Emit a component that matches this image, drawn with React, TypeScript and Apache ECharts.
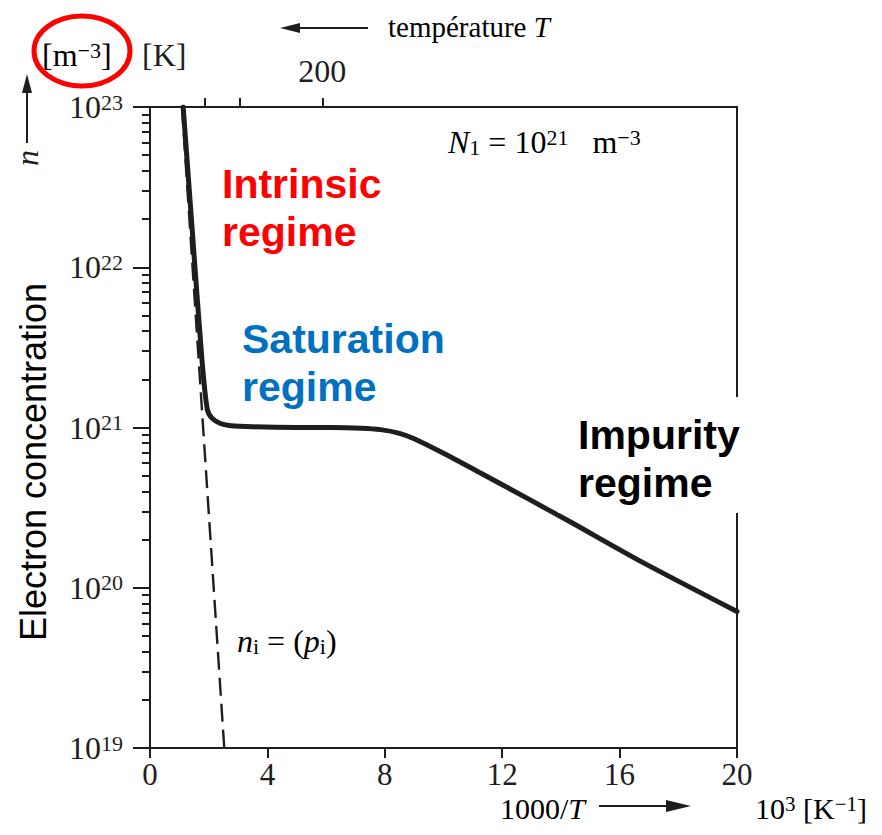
import React, { useEffect, useRef } from "react";
import * as echarts from "echarts";

// Solid curve: electron concentration n vs 1000/T
const solidX = [1.13, 1.45, 1.77, 1.95, 2.12, 2.4, 2.7, 3.5, 5.0, 6.2, 7.2, 7.85, 8.5, 9.0, 10.0, 11.26, 12.97, 14.33, 16.72, 20.0];
const solidN = [1e23, 1.6e22, 2.65e21, 1.3e21, 1.14e21, 1.06e21, 1.03e21, 1.01e21, 1.0e21, 1.0e21, 0.99e21, 0.97e21, 0.92e21, 0.85e21, 0.69e21, 0.52e21, 0.352e21, 0.257e21, 0.146e21, 0.071e21];

// Dashed intrinsic line n_i
const dashX = [1.09, 2.53];
const dashN = [1e23, 1e19];

// Axis ticks
const xTicks = [0, 4, 8, 12, 16, 20];
const yDecades = [1e19, 1e20, 1e21, 1e22, 1e23];
const yMinorMultipliers = [2, 3, 4, 5, 6, 7, 8, 9];
const topTickPositions = [1.85, 3.05, 5.87];
const topLabelPositions = [5.87];
const topLabelTexts = ["200"];

const SERIF = '"Liberation Serif", "Times New Roman", serif';
const SANS = '"Liberation Sans", Arial, sans-serif';
const INK = "#1e1e1e";

export default function App() {
  const ref = useRef<HTMLDivElement>(null);
  useEffect(() => {
    if (!ref.current) return;
    document.body.style.margin = "0";
    const chart = echarts.init(ref.current, null, { renderer: "svg" });

    const minorValues: number[] = [];
    for (let i = 0; i < yDecades.length - 1; i++) {
      for (const m of yMinorMultipliers) minorValues.push(yDecades[i] * m);
    }

    const supRich = {
      b: { fontFamily: SERIF, fontSize: 32, color: INK, lineHeight: 32 },
      s: { fontFamily: SERIF, fontSize: 22, color: INK, lineHeight: 16, verticalAlign: "top" },
      sub: { fontFamily: SERIF, fontSize: 22, color: INK, lineHeight: 10, verticalAlign: "bottom" },
      i: { fontFamily: SERIF, fontSize: 32, fontStyle: "italic", color: INK, lineHeight: 32 },
    };
    const titleRich = {
      b: { fontFamily: SERIF, fontSize: 30, color: INK, lineHeight: 30 },
      s: { fontFamily: SERIF, fontSize: 21, color: INK, lineHeight: 15, verticalAlign: "top" },
      i: { fontFamily: SERIF, fontSize: 30, fontStyle: "italic", color: INK, lineHeight: 30 },
    };

    const option: any = {
      animation: false,
      backgroundColor: "#ffffff",
      grid: {
        left: 150,
        right: 145,
        top: 107,
        bottom: 87,
        show: true,
        borderColor: INK,
        borderWidth: 2,
        backgroundColor: "transparent",
      },
      xAxis: [
        {
          type: "value",
          position: "bottom",
          min: 0,
          max: 20,
          interval: 4,
          axisLine: { show: true, lineStyle: { color: INK, width: 2 } },
          axisTick: { show: true, length: 10, lineStyle: { color: INK, width: 2 }, customValues: xTicks },
          axisLabel: { color: INK, fontFamily: SERIF, fontSize: 31, margin: 11, customValues: xTicks },
          splitLine: { show: false },
        },
        {
          type: "value",
          position: "top",
          min: 0,
          max: 20,
          axisLine: { show: true, lineStyle: { color: INK, width: 2 } },
          axisTick: { show: true, length: 9, lineStyle: { color: INK, width: 2 }, customValues: topTickPositions },
          axisLabel: {
            color: INK,
            fontFamily: SERIF,
            fontSize: 32,
            margin: 20,
            customValues: topLabelPositions,
            formatter: (v: number) => {
              const idx = topLabelPositions.findIndex((p) => Math.abs(p - v) < 1e-6);
              return idx >= 0 ? topLabelTexts[idx] : "";
            },
          },
          splitLine: { show: false },
        },
      ],
      yAxis: [
        {
          type: "log",
          logBase: 10,
          min: 1e19,
          max: 1.000001e23,
          position: "left",
          axisLine: { show: true, lineStyle: { color: INK, width: 2 } },
          axisTick: { show: true, length: 17, lineStyle: { color: INK, width: 2 }, customValues: yDecades },
          axisLabel: {
            margin: 27,
            customValues: yDecades,
            formatter: (v: number) => `{b|10}{s|${Math.round(Math.log10(v))}}`,
            rich: supRich,
          },
          splitLine: { show: false },
        },
        {
          type: "log",
          logBase: 10,
          min: 1e19,
          max: 1.000001e23,
          position: "left",
          axisLine: { show: false },
          axisTick: { show: true, length: 8, lineStyle: { color: INK, width: 2 }, customValues: minorValues },
          axisLabel: { show: false },
          splitLine: { show: false },
        },
      ],
      series: [
        {
          type: "line",
          xAxisIndex: 0,
          yAxisIndex: 0,
          data: solidX.map((x, i) => [x, solidN[i]]),
          showSymbol: false,
          symbol: "none",
          smooth: 0.25,
          lineStyle: { color: INK, width: 5, cap: "round", join: "round" },
          z: 3,
        },
        {
          type: "line",
          xAxisIndex: 0,
          yAxisIndex: 0,
          data: dashX.map((x, i) => [x, dashN[i]]),
          showSymbol: false,
          symbol: "none",
          lineStyle: { color: INK, width: 2.4, type: [18, 8] },
          z: 2,
        },
      ],
      graphic: [
        // left vertical arrow with n
        { type: "line", shape: { x1: 27, y1: 143, x2: 27, y2: 88 }, style: { stroke: INK, lineWidth: 2 }, z: 50 },
        { type: "polygon", shape: { points: [[27, 74], [22, 93], [32, 93]] }, style: { fill: INK }, z: 50 },
        {
          type: "text",
          x: 27,
          y: 158,
          rotation: Math.PI / 2,
          style: { text: "n", font: `italic 32px ${SERIF}`, fill: INK, align: "center", verticalAlign: "middle" },
          z: 50,
        },
        {
          type: "text",
          x: 33,
          y: 462,
          rotation: Math.PI / 2,
          style: { text: "Electron concentration", font: `36px ${SANS}`, fill: "#000", align: "center", verticalAlign: "middle" },
          z: 50,
        },
        // unit labels top-left
        {
          type: "text",
          x: 42,
          y: 55,
          style: { text: "{b|[m}{s|−3}{b|]}", rich: supRich, align: "left", verticalAlign: "middle" },
          z: 50,
        },
        {
          type: "ellipse",
          shape: { cx: 82, cy: 51, rx: 48, ry: 35 },
          style: { fill: "none", stroke: "#ff0000", lineWidth: 5 },
          z: 51,
        },
        {
          type: "text",
          x: 142,
          y: 55,
          style: { text: "[K]", font: `32px ${SERIF}`, fill: INK, align: "left", verticalAlign: "middle" },
          z: 50,
        },
        // top temperature arrow + label
        { type: "line", shape: { x1: 295, y1: 28, x2: 368, y2: 28 }, style: { stroke: INK, lineWidth: 2 }, z: 50 },
        { type: "polygon", shape: { points: [[280, 28], [300, 23], [300, 33]] }, style: { fill: INK }, z: 50 },
        {
          type: "text",
          x: 388,
          y: 27,
          style: {
            text: "{b|température }{i|T}",
            rich: { b: { fontFamily: SERIF, fontSize: 29, color: INK }, i: { fontFamily: SERIF, fontSize: 29, fontStyle: "italic", color: INK } },
            align: "left",
            verticalAlign: "middle",
          },
          z: 50,
        },
        // N1 annotation
        {
          type: "text",
          x: 448,
          y: 142,
          style: {
            text: "{i|N}{sub|1}{b| = 10}{s|21}{b|   m}{s|−3}",
            rich: supRich,
            align: "left",
            verticalAlign: "middle",
          },
          z: 50,
        },
        // n_i = (p_i)
        {
          type: "text",
          x: 237,
          y: 641,
          style: {
            text: "{i|n}{sub|i}{b| = (}{i|p}{sub|i}{b|)}",
            rich: supRich,
            align: "left",
            verticalAlign: "middle",
          },
          z: 50,
        },
        // bottom axis title
        {
          type: "text",
          x: 500,
          y: 808,
          style: { text: "{b|1000/}{i|T}", rich: titleRich, align: "left", verticalAlign: "middle" },
          z: 50,
        },
        { type: "line", shape: { x1: 599, y1: 806, x2: 672, y2: 806 }, style: { stroke: INK, lineWidth: 2 }, z: 50 },
        { type: "polygon", shape: { points: [[691, 806], [666, 800], [666, 812]] }, style: { fill: INK }, z: 50 },
        {
          type: "text",
          x: 755,
          y: 808,
          style: { text: "{b|10}{s|3}{b| [K}{s|−1}{b|]}", rich: titleRich, align: "left", verticalAlign: "middle" },
          z: 50,
        },
        // regime labels
        {
          type: "text",
          x: 222,
          y: 184,
          style: { text: "Intrinsic", font: `bold 41px ${SANS}`, fill: "#ff0000", align: "left", verticalAlign: "middle" },
          z: 60,
        },
        {
          type: "text",
          x: 222,
          y: 232,
          style: { text: "regime", font: `bold 41px ${SANS}`, fill: "#ff0000", align: "left", verticalAlign: "middle" },
          z: 60,
        },
        {
          type: "text",
          x: 242,
          y: 339,
          style: { text: "Saturation", font: `bold 41px ${SANS}`, fill: "#0070c0", align: "left", verticalAlign: "middle" },
          z: 60,
        },
        {
          type: "text",
          x: 242,
          y: 387,
          style: { text: "regime", font: `bold 41px ${SANS}`, fill: "#0070c0", align: "left", verticalAlign: "middle" },
          z: 60,
        },
        {
          type: "rect",
          shape: { x: 558, y: 397, width: 186, height: 116 },
          style: { fill: "#ffffff" },
          z: 58,
        },
        {
          type: "text",
          x: 578,
          y: 435,
          style: { text: "Impurity", font: `bold 41px ${SANS}`, fill: "#000000", align: "left", verticalAlign: "middle" },
          z: 60,
        },
        {
          type: "text",
          x: 578,
          y: 483,
          style: { text: "regime", font: `bold 41px ${SANS}`, fill: "#000000", align: "left", verticalAlign: "middle" },
          z: 60,
        },
      ],
    };

    chart.setOption(option);
    return () => chart.dispose();
  }, []);

  return <div ref={ref} style={{ position: "fixed", left: 0, top: 0, width: 882, height: 835, background: "#fff" }} />;
}
